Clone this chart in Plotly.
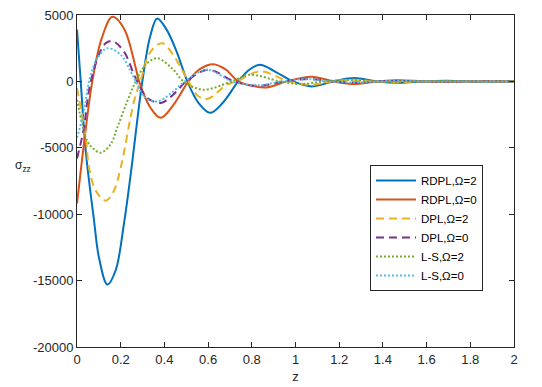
import plotly.graph_objects as go

# ---- data ----
rdpl2_z = [0, 0.017, 0.04, 0.078, 0.1, 0.139, 0.177, 0.215, 0.246, 0.299, 0.335, 0.367, 0.41, 0.456, 0.505,
           0.555, 0.609, 0.665, 0.738, 0.79, 0.838, 0.9, 0.99, 1.074, 1.173, 1.27, 1.37, 1.48, 1.58, 1.69, 1.79, 1.9, 2.0]
rdpl2_s = [3900, 0, -5240, -10480, -13220, -15300, -14220, -10700, -6970, 0, 3400, 4740, 3900, 2245, 0,
           -1600, -2370, -1650, 0, 900, 1250, 800, 0, -375, 0, 250, 0, -100, 0, 50, 0, -20, 0]

rdpl0_z = [0, 0.037, 0.07, 0.113, 0.162, 0.215, 0.269, 0.284, 0.337, 0.383, 0.44, 0.51, 0.56, 0.624, 0.68,
           0.738, 0.8, 0.868, 0.96, 1.074, 1.173, 1.27, 1.37, 1.48, 1.58, 1.69, 1.79, 1.9, 2.0]
rdpl0_s = [-9200, -4000, 0, 3240, 4865, 3990, 1000, 0, -2000, -2745, -1800, 0, 900, 1300, 900,
           0, -330, -450, 0, 350, 0, -200, 0, 90, 0, -40, 0, 15, 0]

dpl2_z = [0, 0.04, 0.055, 0.086, 0.131, 0.169, 0.2, 0.261, 0.29, 0.337, 0.39, 0.44, 0.51, 0.555, 0.6,
          0.685, 0.73, 0.838, 0.97, 1.07, 1.17, 1.27, 1.37, 1.48, 1.58, 1.69, 1.8, 2.0]
dpl2_s = [-500, -4240, -6490, -8230, -8980, -8230, -6490, -1500, 0, 2245, 2870, 2000, 0, -1120, -1300,
          -250, 0, 750, 0, -250, 0, 120, 0, -50, 0, 20, 0, 0]

dpl0_z = [0, 0.032, 0.047, 0.063, 0.1, 0.131, 0.162, 0.215, 0.261, 0.276, 0.322, 0.385, 0.44, 0.5, 0.6,
          0.72, 0.83, 0.95, 1.06, 1.17, 1.27, 1.37, 1.48, 1.58, 1.7, 1.8, 2.0]
dpl0_s = [-5800, -3490, -1500, 0, 2000, 2870, 3045, 2245, 500, 0, -1250, -1620, -1000, 0, 875,
          0, -330, 0, 180, 0, -90, 0, 40, 0, -15, 0, 0]

ls2_z = [0, 0.047, 0.07, 0.108, 0.154, 0.184, 0.23, 0.269, 0.314, 0.367, 0.44, 0.487, 0.578, 0.708, 0.79,
         0.93, 1.02, 1.13, 1.23, 1.35, 1.45, 1.56, 1.67, 1.78, 2.0]
ls2_s = [-1370, -4490, -4990, -5370, -4740, -3490, -1500, 0, 1250, 1745, 900, 0, -620, 0, 500,
         0, -200, 0, 100, 0, -50, 0, 20, 0, 0]

ls0_z = [0, 0.032, 0.055, 0.093, 0.139, 0.2, 0.246, 0.269, 0.314, 0.37, 0.43, 0.494, 0.594, 0.71, 0.82,
         0.94, 1.05, 1.16, 1.27, 1.37, 1.48, 1.58, 1.7, 1.8, 2.0]
ls0_s = [-4240, -2245, 0, 1745, 2490, 2000, 750, 0, -1250, -1500, -900, 0, 875, 0, -300,
         0, 170, 0, -80, 0, 35, 0, -12, 0, 0]

x_ticks = [0, 0.2, 0.4, 0.6, 0.8, 1, 1.2, 1.4, 1.6, 1.8, 2]
x_tick_labels = ["0", "0.2", "0.4", "0.6", "0.8", "1", "1.2", "1.4", "1.6", "1.8", "2"]
y_ticks = [-20000, -15000, -10000, -5000, 0, 5000]
y_tick_labels = ["-20000", "-15000", "-10000", "-5000", "0", "5000"]

series = [
    ("RDPL,\u03a9=2", rdpl2_z, rdpl2_s, "#0072BD", "solid"),
    ("RDPL,\u03a9=0", rdpl0_z, rdpl0_s, "#D95319", "solid"),
    ("DPL,\u03a9=2", dpl2_z, dpl2_s, "#EDB120", "8px,5px"),
    ("DPL,\u03a9=0", dpl0_z, dpl0_s, "#7E2F8E", "8px,5px"),
    ("L-S,\u03a9=2", ls2_z, ls2_s, "#77AC30", "2px,2px"),
    ("L-S,\u03a9=0", ls0_z, ls0_s, "#4DBEEE", "2px,2px"),
]

fig = go.Figure()
for name, zz, ss, col, dash in series:
    fig.add_trace(go.Scatter(x=zz, y=ss, mode="lines", name=name,
                             line=dict(color=col, width=2, dash=dash, shape="spline", smoothing=1.0)))

axis_col = "#262626"
font_fam = "Liberation Sans, Arial, sans-serif"
# page body has an 8px default margin; figure sized to fit the 542x387 window
PL, PT = 77, 15          # plot-area left/top in window pixels
PR, PB = 514, 347        # plot-area right/bottom in window pixels
OFF = 8
W, H = 542 - OFF, 387 - OFF
fig.update_layout(
    width=W, height=H,
    margin=dict(l=PL - OFF, r=542 - PR, t=PT - OFF, b=387 - PB, autoexpand=False),
    paper_bgcolor="white", plot_bgcolor="white",
    font=dict(family=font_fam, size=13, color=axis_col),
    showlegend=True,
    legend=dict(x=(370 - PL) / (PR - PL), y=(PB - 228) / (PB - PT), xanchor="left", yanchor="middle",
                bgcolor="white", bordercolor=axis_col, borderwidth=1,
                font=dict(size=11.5, color="black"), itemwidth=40),
    xaxis=dict(range=[0, 2], tickvals=x_ticks, ticktext=x_tick_labels, automargin=False,
               ticklabeloverflow="allow",
               showline=True, linecolor=axis_col, linewidth=1, mirror="allticks",
               ticks="inside", ticklen=5, tickcolor=axis_col, showgrid=False, zeroline=False,
               title=dict(text="z", font=dict(size=13), standoff=6)),
    yaxis=dict(range=[-20000, 5000], tickvals=y_ticks, ticktext=y_tick_labels, automargin=False,
               ticklabeloverflow="allow",
               showline=True, linecolor=axis_col, linewidth=1, mirror="allticks",
               ticks="inside", ticklen=5, tickcolor=axis_col, showgrid=False, zeroline=False),
)
fig.add_annotation(x=(23 - PL) / (PR - PL), y=(PB - 166) / (PB - PT), xref="paper", yref="paper",
                   text="\u03c3<sub>zz</sub>", showarrow=False, xanchor="center", yanchor="middle",
                   font=dict(size=12, color=axis_col))

fig.write_html("out.html")
